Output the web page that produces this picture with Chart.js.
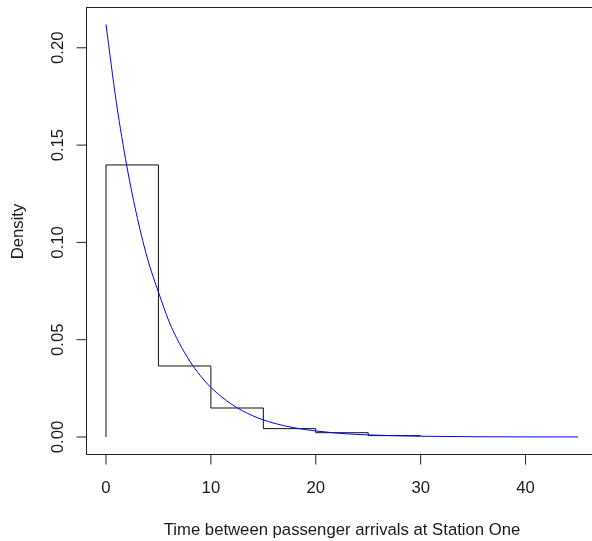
<!DOCTYPE html>
<html><head><meta charset="utf-8">
<script src="https://cdn.jsdelivr.net/npm/chart.js@4.4.0/dist/chart.umd.min.js"></script>
<style>html,body{margin:0;padding:0;background:#fff;overflow:hidden;width:592px;height:541px}#wrap{width:612px;height:541px}</style>
</head><body><div id="wrap"><canvas id="c" width="612" height="541"></canvas></div>
<script>
// Histogram (density per 5-unit bin)
const binEdges = [0, 5, 10, 15, 20, 25, 30];
const binDensity = [0.1398, 0.0365, 0.0149, 0.0043, 0.0022, 0.0007];
// Fitted exponential density curve
const curveX = [0, 1, 2, 3, 4, 5, 6, 7, 8, 9, 10, 12, 14, 16, 18, 20, 23, 26, 30, 35, 40, 45];
const curveY = [0.212, 0.1715, 0.1388, 0.1123, 0.0908, 0.0745, 0.0595, 0.0481, 0.0389, 0.0315, 0.0255,
                0.0167, 0.0109, 0.0071, 0.0047, 0.0031, 0.0016, 0.0009, 0.0004, 0.00013, 0.00004, 0.00002];
const xTickValues = [0, 10, 20, 30, 40];
const xTickLabels = ["0", "10", "20", "30", "40"];
const yTickValues = [0, 0.05, 0.10, 0.15, 0.20];
const yTickLabels = ["0.00", "0.05", "0.10", "0.15", "0.20"];
const xTitle = "Time between passenger arrivals at Station One";
const yTitle = "Density";

const stepPts = [{x: binEdges[0], y: 0}];
for (let i = 0; i < binDensity.length; i++) stepPts.push({x: binEdges[i + 1], y: binDensity[i]});

const curvePts = curveX.map((x, i) => ({x, y: curveY[i]}));

const FONT = '16.7px "Liberation Sans", Arial, sans-serif';
const INK = '#1a1a1a';

const framePlugin = {
  id: 'frame',
  afterDraw(chart) {
    const {ctx, chartArea: a, scales: {x, y}} = chart;
    ctx.save();
    ctx.strokeStyle = '#222'; ctx.lineWidth = 1;
    ctx.strokeRect(a.left - 0.5, a.top - 0.5, a.right - a.left, a.bottom - a.top);
    ctx.fillStyle = INK; ctx.font = FONT;
    ctx.textAlign = 'center'; ctx.textBaseline = 'middle';
    xTickValues.forEach((v, i) => {
      const px = x.getPixelForValue(v);
      ctx.beginPath(); ctx.moveTo(px, a.bottom - 0.5); ctx.lineTo(px, a.bottom + 9.5); ctx.stroke();
      ctx.fillText(xTickLabels[i], px, 488);
    });
    yTickValues.forEach((v, i) => {
      const py = y.getPixelForValue(v);
      ctx.beginPath(); ctx.moveTo(a.left - 0.5, py); ctx.lineTo(a.left - 10.5, py); ctx.stroke();
      ctx.save(); ctx.translate(58, py); ctx.rotate(-Math.PI / 2);
      ctx.fillText(yTickLabels[i], 0, 0); ctx.restore();
    });
    ctx.fillText(xTitle, (a.left + a.right) / 2, 530);
    ctx.save(); ctx.translate(18, (a.top + a.bottom) / 2); ctx.rotate(-Math.PI / 2);
    ctx.fillText(yTitle, 0, 0); ctx.restore();
    ctx.restore();
  }
};

new Chart(document.getElementById('c'), {
  type: 'line',
  data: {
    datasets: [
      {data: curvePts, borderColor: '#0000ff', borderWidth: 1, pointRadius: 0, fill: false,
       cubicInterpolationMode: 'monotone'},
      {data: stepPts, borderColor: '#111', borderWidth: 1, pointRadius: 0, fill: false, stepped: 'after'}
    ]
  },
  options: {
    responsive: false, animation: false, devicePixelRatio: 1,
    layout: {padding: {left: 87, top: 8, right: 15, bottom: 86}},
    plugins: {legend: {display: false}, tooltip: {enabled: false}},
    scales: {
      x: {type: 'linear', display: false, min: -1.81, max: 46.81},
      y: {type: 'linear', display: false, min: -0.00925, max: 0.22045}
    }
  },
  plugins: [framePlugin]
});
</script></body></html>
